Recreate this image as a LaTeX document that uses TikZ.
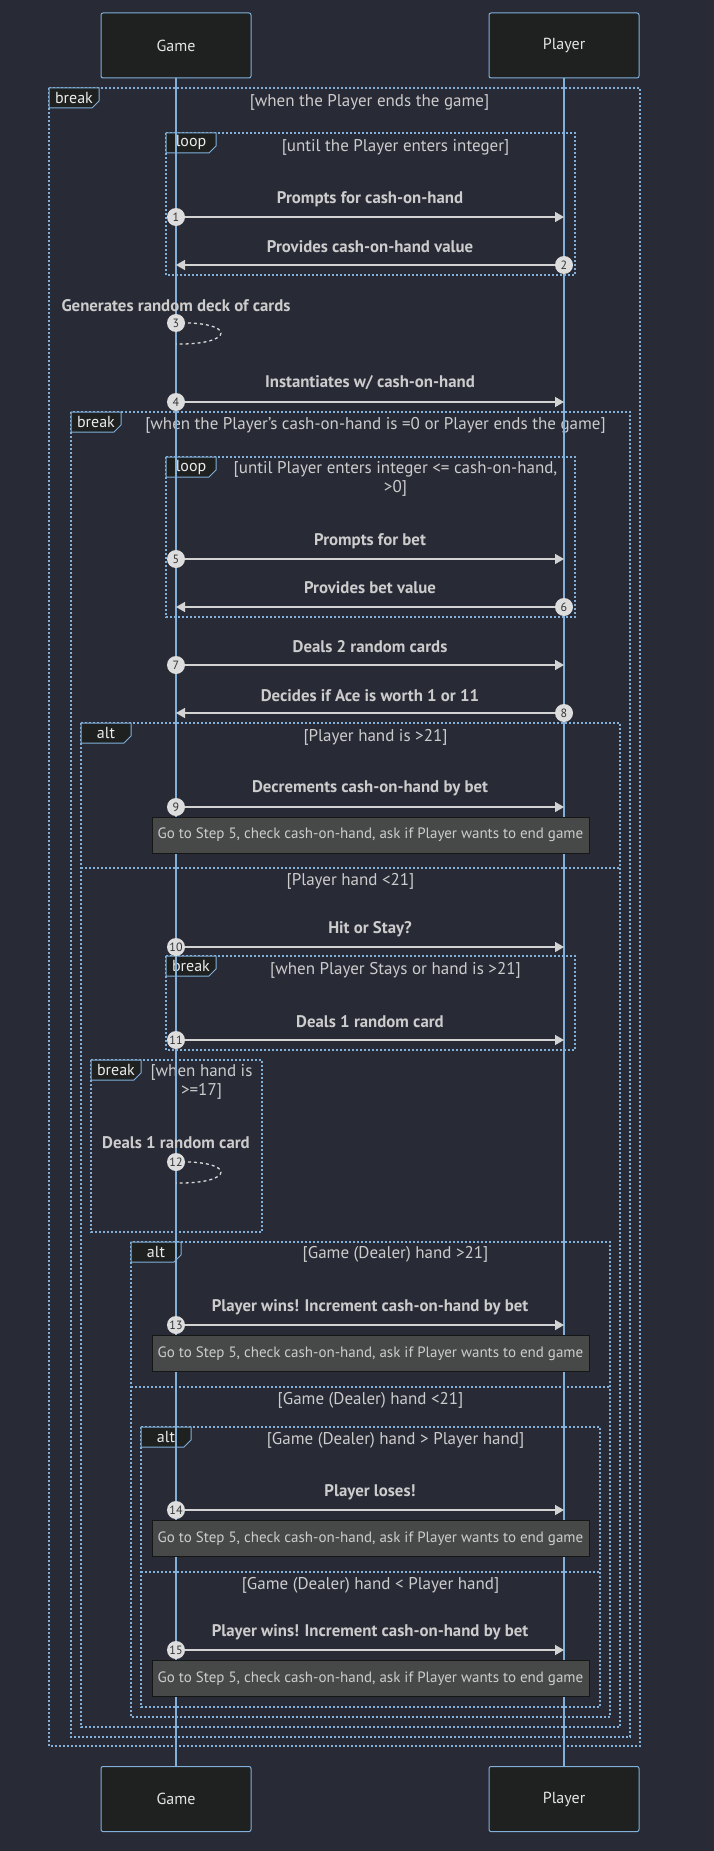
\documentclass[tikz,border=0pt]{standalone}
\usepackage{fontspec}
\setmainfont{PT Sans}
\usepackage{tikz}
\usetikzlibrary{arrows.meta,positioning}
\definecolor{BgDark}{HTML}{282A36}
\definecolor{LineBlue}{HTML}{81B1DB}
\definecolor{ActorFill}{HTML}{1F2020}
\definecolor{MsgGrey}{HTML}{D3D3D3}
\definecolor{LblGrey}{HTML}{CCCCCC}
\definecolor{NumFill}{HTML}{DDDDDD}
\definecolor{NoteFill}{HTML}{474949}
\tikzset{
  actor/.style={draw=LineBlue, fill=ActorFill, line width=1pt, rounded corners=2pt, minimum width=150, minimum height=65, text=white!90!black, font=\fontsize{16}{18}\selectfont},
  life/.style={LineBlue, line width=1.5pt},
  frame/.style={LineBlue, line width=1.6pt, dash pattern=on 2pt off 2pt},
  tab/.style={draw=LineBlue, fill=ActorFill, line width=1pt},
  tablbl/.style={text=white!92!black, font=\fontsize{16}{18}\selectfont, inner sep=0},
  cond/.style={text=LblGrey, font=\fontsize{17}{19}\selectfont, align=center, inner sep=0},
  msg/.style={MsgGrey, line width=1.5pt, arrows={-Triangle[length=9pt, width=10pt]}},
  self/.style={white!85!black, line width=1.3pt, dash pattern=on 3pt off 3pt},
  msglbl/.style={text=LblGrey, font=\bfseries\fontsize{16.8}{19}\selectfont, inner sep=0},
  num/.style={circle, fill=NumFill, minimum size=18, inner sep=0, text=black!80, font=\fontsize{12}{12}\selectfont},
  note/.style={draw=black!70!NoteFill, fill=NoteFill, minimum width=437, minimum height=36, inner sep=0, text=LblGrey, font=\fontsize{15}{16}\selectfont}
}
\begin{document}
\begin{tikzpicture}[x=1pt, y=-1pt]
\fill[BgDark] (0,0) rectangle (714,1851);
\useasboundingbox (0,0) rectangle (714,1851);

% frames
\draw[frame] (49,88) rectangle (640,1746);
\filldraw[tab] (49,88) -- (99,88) -- (99,101) -- (92,108) -- (49,108) -- cycle;
\node[tablbl] (brkA) at (74,98) {break};
\node[cond] (brkAc) at (369.5,102) {[when the Player ends the game]};

\draw[frame] (166,133) rectangle (575,275);
\filldraw[tab] (166,133) -- (216,133) -- (216,146) -- (209,153) -- (166,153) -- cycle;
\node[tablbl] (loopA) at (191,143) {loop};
\node[cond] (loopAc) at (395.5,147) {[until the Player enters integer]};

\draw[frame] (71,412) rectangle (630,1737);
\filldraw[tab] (71,412) -- (121,412) -- (121,425) -- (114,432) -- (71,432) -- cycle;
\node[tablbl] (brkB) at (96,422) {break};
\node[cond] (brkBc) at (375.5,425) {[when the Player's cash-on-hand is =0 or Player ends the game]};

\draw[frame] (166,457) rectangle (575,617);
\filldraw[tab] (166,457) -- (216,457) -- (216,470) -- (209,477) -- (166,477) -- cycle;
\node[tablbl] (loopB) at (191,467) {loop};
\node[cond] (loopBc) at (395.5,479) {[until Player enters integer <= cash-on-hand,\\>0]};

\draw[frame] (81,723) rectangle (620,1727);
\filldraw[tab] (81,723) -- (131,723) -- (131,736) -- (124,743) -- (81,743) -- cycle;
\node[tablbl] (altA) at (106,733) {alt};
\node[cond] (altAc) at (375.5,737) {[Player hand is >21]};
\draw[frame] (81,868) -- (620,868);
\node[cond] (altAe) at (350.5,881) {[Player hand <21]};

\draw[frame] (166,956) rectangle (575,1050);
\filldraw[tab] (166,956) -- (216,956) -- (216,969) -- (209,976) -- (166,976) -- cycle;
\node[tablbl] (brkC) at (191,966) {break};
\node[cond] (brkCc) at (395.5,970) {[when Player Stays or hand is >21]};

\draw[frame] (91,1060) rectangle (262,1232);
\filldraw[tab] (91,1060) -- (141,1060) -- (141,1073) -- (134,1080) -- (91,1080) -- cycle;
\node[tablbl] (brkD) at (116,1070) {break};
\node[cond] (brkDc) at (201.5,1082) {[when hand is\\>=17]};

\draw[frame] (131,1242) rectangle (610,1717);
\filldraw[tab] (131,1242) -- (181,1242) -- (181,1255) -- (174,1262) -- (131,1262) -- cycle;
\node[tablbl] (altB) at (156,1252) {alt};
\node[cond] (altBc) at (395.5,1254) {[Game (Dealer) hand >21]};
\draw[frame] (131,1387) -- (610,1387);
\node[cond] (altBe) at (370.5,1400) {[Game (Dealer) hand <21]};

\draw[frame] (141,1427) rectangle (600,1707);
\filldraw[tab] (141,1427) -- (191,1427) -- (191,1440) -- (184,1447) -- (141,1447) -- cycle;
\node[tablbl] (altC) at (166,1437) {alt};
\node[cond] (altCc) at (395.5,1440) {[Game (Dealer) hand > Player hand]};
\draw[frame] (141,1572) -- (600,1572);
\node[cond] (altCe) at (370.5,1585) {[Game (Dealer) hand < Player hand]};

% actors and lifelines
\node[actor] (gameT) at (176,45.5) {Game};
\node[actor] (playerT) at (564,45.5) {Player};
\node[actor] (gameB) at (176,1799) {Game};
\node[actor] (playerB) at (564,1799) {Player};
\draw[life] (gameT) -- (gameB);
\draw[life] (playerT) -- (playerB);

% notes
\node[note] (noteA) at (370.5,835) {Go to Step 5, check cash-on-hand, ask if Player wants to end game};
\node[note] (noteB) at (370.5,1353.5) {Go to Step 5, check cash-on-hand, ask if Player wants to end game};
\node[note] (noteC) at (370.5,1538.5) {Go to Step 5, check cash-on-hand, ask if Player wants to end game};
\node[note] (noteD) at (370.5,1678.5) {Go to Step 5, check cash-on-hand, ask if Player wants to end game};

% messages
\coordinate (g1) at (176,217);  \coordinate (p1) at (564,217);
\coordinate (g2) at (176,265);  \coordinate (p2) at (564,265);
\coordinate (g4) at (176,402);  \coordinate (p4) at (564,402);
\coordinate (g5) at (176,559);  \coordinate (p5) at (564,559);
\coordinate (g6) at (176,607);  \coordinate (p6) at (564,607);
\coordinate (g7) at (176,665);  \coordinate (p7) at (564,665);
\coordinate (g8) at (176,713);  \coordinate (p8) at (564,713);
\coordinate (g9) at (176,807);  \coordinate (p9) at (564,807);
\coordinate (g10) at (176,947); \coordinate (p10) at (564,947);
\coordinate (g11) at (176,1040); \coordinate (p11) at (564,1040);
\coordinate (g13) at (176,1325); \coordinate (p13) at (564,1325);
\coordinate (g14) at (176,1510); \coordinate (p14) at (564,1510);
\coordinate (g15) at (176,1650); \coordinate (p15) at (564,1650);

\draw[msg] (g1) -- (p1);
\draw[msg] (p2) -- (g2);
\draw[self] (176,323) .. controls (236,321) and (236,345) .. (176,344);
\draw[msg] (g4) -- (p4);
\draw[msg] (g5) -- (p5);
\draw[msg] (p6) -- (g6);
\draw[msg] (g7) -- (p7);
\draw[msg] (p8) -- (g8);
\draw[msg] (g9) -- (p9);
\draw[msg] (g10) -- (p10);
\draw[msg] (g11) -- (p11);
\draw[self] (176,1162) .. controls (236,1160) and (236,1184) .. (176,1183);
\draw[msg] (g13) -- (p13);
\draw[msg] (g14) -- (p14);
\draw[msg] (g15) -- (p15);

\node[msglbl] (m1) at (370,199) {Prompts for cash-on-hand};
\node[msglbl] (m2) at (370,247) {Provides cash-on-hand value};
\node[msglbl] (m3) at (176,306) {Generates random deck of cards};
\node[msglbl] (m4) at (370,383) {Instantiates w/ cash-on-hand};
\node[msglbl] (m5) at (370,541) {Prompts for bet};
\node[msglbl] (m6) at (370,588) {Provides bet value};
\node[msglbl] (m7) at (370,647) {Deals 2 random cards};
\node[msglbl] (m8) at (370,696) {Decides if Ace is worth 1 or 11};
\node[msglbl] (m9) at (370,788) {Decrements cash-on-hand by bet};
\node[msglbl] (m10) at (370,929) {Hit or Stay?};
\node[msglbl] (m11) at (370,1022) {Deals 1 random card};
\node[msglbl] (m12) at (176,1143) {Deals 1 random card};
\node[msglbl] (m13) at (370,1307) {Player wins! Increment cash-on-hand by bet};
\node[msglbl] (m14) at (370,1492) {Player loses!};
\node[msglbl] (m15) at (370,1632) {Player wins! Increment cash-on-hand by bet};

% step numbers
\node[num] (n1) at (g1) {1};
\node[num] (n2) at (p2) {2};
\node[num] (n3) at (176,323) {3};
\node[num] (n4) at (g4) {4};
\node[num] (n5) at (g5) {5};
\node[num] (n6) at (p6) {6};
\node[num] (n7) at (g7) {7};
\node[num] (n8) at (p8) {8};
\node[num] (n9) at (g9) {9};
\node[num] (n10) at (g10) {10};
\node[num] (n11) at (g11) {11};
\node[num] (n12) at (176,1162) {12};
\node[num] (n13) at (g13) {13};
\node[num] (n14) at (g14) {14};
\node[num] (n15) at (g15) {15};
\end{tikzpicture}
\end{document}
